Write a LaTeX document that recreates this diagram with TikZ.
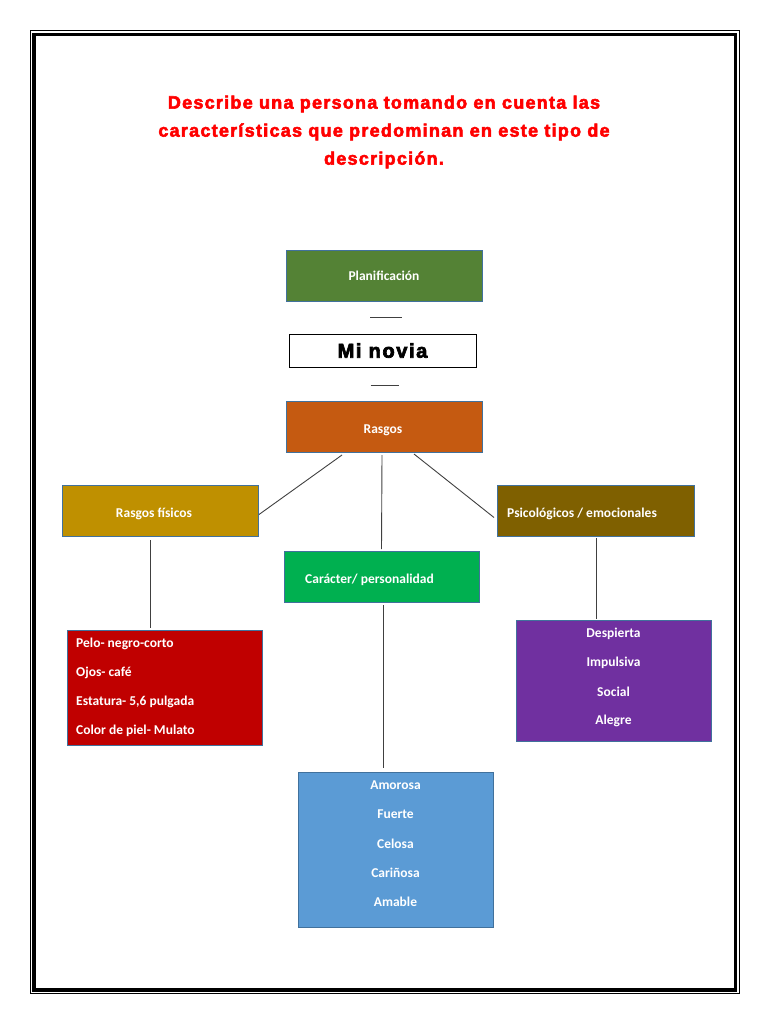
\documentclass[tikz,border=0pt]{standalone}
\usepackage{fontspec}
\setmainfont{Carlito}
\newfontfamily\titlefont[FakeBold=3,LetterSpace=7]{Liberation Sans}
\newfontfamily\arialb[FakeBold=3.5,LetterSpace=8]{Liberation Sans}
\definecolor{cplan}{HTML}{548235}
\definecolor{crasgos}{HTML}{C55A11}
\definecolor{cfis}{HTML}{BF9000}
\definecolor{cpsic}{HTML}{7F6000}
\definecolor{ccar}{HTML}{00B050}
\definecolor{cred}{HTML}{C00000}
\definecolor{cpur}{HTML}{7030A0}
\definecolor{cblue}{HTML}{5B9BD5}
\definecolor{cborder}{HTML}{41719C}
\definecolor{ctitle}{HTML}{FF0000}
\tikzset{
  box/.style={draw=cborder, line width=1pt, inner sep=0pt, outer sep=0pt},
  lbl/.style={text=white, font=\fontsize{13.5}{15}\selectfont\bfseries, inner sep=0pt},
  conn/.style={draw=black!75, line width=0.9pt},
}
\begin{document}
\begin{tikzpicture}[x=1pt,y=-1pt]
\useasboundingbox (0,0) rectangle (768,1024);
% frame
\draw[line width=1pt] (30.5,30.5) rectangle (739,993.5);
\draw[line width=3.5pt] (33.75,34.75) rectangle (735.25,989.75);

% title
\node[text=ctitle, font=\titlefont\fontsize{18}{28}\selectfont\bfseries, align=center, inner sep=0pt] (title) at (384,132)
 {Describe una persona tomando en cuenta las\\características que predominan en este tipo de\\descripción.};

% boxes
\node[box, fill=cplan, minimum width=196pt, minimum height=51pt] (plan) at (384,275.5) {};
\node[lbl] (planl) at (384,275.5) {Planificación};

\node[draw=black, line width=1pt, minimum width=187pt, minimum height=33pt, inner sep=0pt, font=\arialb\fontsize{20}{22}\selectfont\bfseries] (novia) at (382.5,350.5) {Mi novia};

\node[box, fill=crasgos, minimum width=196pt, minimum height=51pt] (rasgos) at (384,426.5) {};
\node[lbl] (rasgosl) at (383,430) {Rasgos};

\node[box, fill=cfis, minimum width=196pt, minimum height=51pt] (fis) at (160,510.5) {};
\node[lbl] (fisl) at (154,514) {Rasgos físicos};

\node[box, fill=cpsic, minimum width=197pt, minimum height=51pt] (psic) at (595.5,510.5) {};
\node[lbl, anchor=west] (psicl) at (507,514) {Psicológicos / emocionales};

\node[box, fill=ccar, minimum width=195pt, minimum height=51pt] (car) at (381.5,576.5) {};
\node[lbl, anchor=west] (carl) at (305,580) {Carácter/ personalidad};

\node[box, fill=cred, minimum width=195pt, minimum height=115pt] (red) at (164.5,687.5) {};
\node[lbl, anchor=west] (r1) at (76,643.5) {Pelo- negro-corto};
\node[lbl, anchor=west] (r2) at (76,672.5) {Ojos- café};
\node[lbl, anchor=west] (r3) at (76,701.5) {Estatura- 5,6 pulgada};
\node[lbl, anchor=west] (r4) at (76,730.5) {Color de piel- Mulato};

\node[box, fill=cpur, minimum width=195pt, minimum height=121pt] (pur) at (613.5,680.5) {};
\node[lbl] (p1) at (613.5,633.5) {Despierta};
\node[lbl] (p2) at (613.5,662.5) {Impulsiva};
\node[lbl] (p3) at (613.5,691.5) {Social};
\node[lbl] (p4) at (613.5,720.5) {Alegre};

\node[box, fill=cblue, minimum width=195pt, minimum height=155pt] (blue) at (395.5,849.5) {};
\node[lbl] (b1) at (395.5,785.5) {Amorosa};
\node[lbl] (b2) at (395.5,814.5) {Fuerte};
\node[lbl] (b3) at (395.5,843.5) {Celosa};
\node[lbl] (b4) at (395.5,872.5) {Cariñosa};
\node[lbl] (b5) at (395.5,901.5) {Amable};

% short dashes
\draw[conn] ([xshift=-14pt,yshift=-16pt]plan.south) -- ([xshift=18pt,yshift=-16pt]plan.south);
\draw[conn] ([xshift=-12pt,yshift=-18pt]novia.south) -- ([xshift=16pt,yshift=-18pt]novia.south);

% connectors
\draw[conn] ([xshift=56pt,yshift=-3pt]rasgos.south west) -- ([xshift=1pt,yshift=-4pt]fis.east);
\draw[conn] ([xshift=-2pt,yshift=-3pt]rasgos.south) -- ([yshift=2pt]car.north);
\draw[conn] ([xshift=128pt,yshift=-2pt]rasgos.south west) -- ([xshift=-3pt,yshift=-7pt]psic.west);
\draw[conn] ([xshift=88pt,yshift=-4pt]fis.south west) -- ([xshift=83pt,yshift=2pt]red.north west);
\draw[conn] ([xshift=1.5pt,yshift=-3pt]car.south) -- ([xshift=85pt,yshift=4pt]blue.north west);
\draw[conn] ([xshift=99pt,yshift=-2pt]psic.south west) -- ([xshift=80pt,yshift=1pt]pur.north west);
\end{tikzpicture}
\end{document}
